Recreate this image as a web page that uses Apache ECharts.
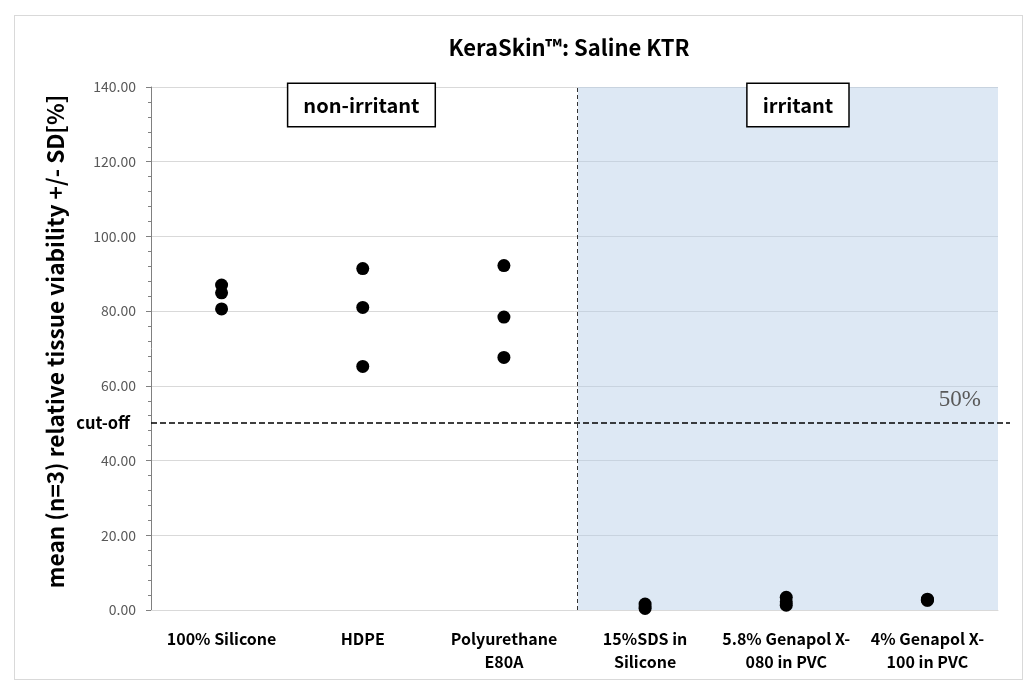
<!DOCTYPE html>
<html>
<head>
<meta charset="utf-8">
<script src="https://cdn.jsdelivr.net/npm/echarts@6/dist/echarts.min.js"></script>
<style>
  html, body { margin: 0; padding: 0; background: #fff; }
  #chart { width: 1036px; height: 689px; position: absolute; left: 0; top: 0; }
  #frame { position: absolute; left: 14px; top: 15px; width: 1007px; height: 663px; border: 1px solid #d9d9d9; pointer-events: none; }
</style>
</head>
<body>
<div id="chart"></div>
<div id="frame"></div>
<script>
const categories = ['100% Silicone', 'HDPE', 'Polyurethane\nE80A', '15%SDS in\nSilicone', '5.8% Genapol X-\n080 in PVC', '4% Genapol X-\n100 in PVC'];
const replicate1 = [87.0, 91.4, 92.2, 1.6, 3.4, 2.9];
const replicate2 = [84.9, 81.0, 78.4, 0.9, 2.2, 2.7];
const replicate3 = [80.6, 65.2, 67.6, 0.4, 1.3, 2.6];
const yMin = 0, yMax = 140, yStep = 20;
const cutoffValue = 50;
const irritantStart = 2.524;   // boundary between groups on the category index scale
const groupLabels = ['non-irritant', 'irritant'];

const points = [];
[replicate1, replicate2, replicate3].forEach(rep => rep.forEach((v, i) => points.push([i, v])));

const FONT = '"Noto Sans CJK KR", "Noto Sans", sans-serif';
const boxLabel = (text, dx) => ({
  show: true, position: 'insideTop', formatter: text, distance: 0, offset: [dx, -3],
  fontFamily: FONT, fontWeight: 'bold', fontSize: 20, color: '#000', backgroundColor: '#fff',
  borderColor: '#000', borderWidth: 1.5, padding: [11, 15, 11, 15]
});

const chart = echarts.init(document.getElementById('chart'), null, { renderer: 'canvas' });
chart.setOption({
  animation: false,
  backgroundColor: '#fff',
  title: {
    text: 'KeraSkin™: Saline KTR',
    left: 564, top: 32, textAlign: 'center',
    textStyle: { fontFamily: FONT, fontWeight: 'bold', fontSize: 22, color: '#000' }
  },
  grid: [
    { left: 151, right: 38, top: 87, bottom: 79 },
    { left: 151, right: 26, top: 87, bottom: 79 }
  ],
  xAxis: [
    {
      type: 'category', gridIndex: 0, data: categories, boundaryGap: true,
      axisLine: { lineStyle: { color: '#d9d9d9', width: 1 } },
      axisTick: { show: false },
      axisLabel: { interval: 0, margin: 17, lineHeight: 23, fontFamily: FONT, fontWeight: 'bold', fontSize: 16, color: '#000' },
      splitLine: { show: false }
    },
    { type: 'value', gridIndex: 0, min: -0.5, max: 5.5, show: false },
    { type: 'value', gridIndex: 1, min: 0, max: 1, show: false }
  ],
  yAxis: [
    {
      type: 'value', gridIndex: 0, min: yMin, max: yMax, interval: yStep,
      name: 'mean (n=3) relative tissue viability +/- SD[%]',
      nameLocation: 'middle', nameGap: 84,
      nameTextStyle: { fontFamily: FONT, fontWeight: 'bold', fontSize: 22.6, color: '#000', padding: [0, 0, 0, 14] },
      axisLine: { show: true, onZero: false, lineStyle: { color: '#808080', width: 1 } },
      axisTick: { show: true, length: 5, lineStyle: { color: '#808080' } },
      minorTick: { show: true, splitNumber: 5, length: 3, lineStyle: { color: '#808080' } },
      splitLine: { lineStyle: { color: '#d9d9d9', width: 1 } },
      axisLabel: { formatter: v => v.toFixed(2), fontFamily: FONT, fontSize: 14, color: '#595959', margin: 15 }
    },
    { type: 'value', gridIndex: 1, min: yMin, max: yMax, show: false }
  ],
  series: [
    {
      type: 'scatter', xAxisIndex: 1, yAxisIndex: 0, data: points,
      symbol: 'circle', symbolSize: 13, itemStyle: { color: '#000', opacity: 1 },
      z: 4,
      markArea: {
        silent: true,
        data: [
          [
            { xAxis: -0.5, itemStyle: { color: 'rgba(255,255,255,0)' }, label: boxLabel(groupLabels[0], -3) },
            { xAxis: irritantStart }
          ],
          [
            { xAxis: irritantStart, itemStyle: { color: 'rgba(180,205,230,0.45)' }, label: boxLabel(groupLabels[1], 10) },
            { xAxis: 5.5 }
          ]
        ]
      },
      markLine: {
        silent: true, symbol: ['none', 'none'],
        label: { show: false },
        lineStyle: { type: [4, 3], color: '#333', width: 1 },
        data: [{ xAxis: irritantStart }]
      }
    },
    {
      type: 'scatter', xAxisIndex: 2, yAxisIndex: 1, data: [], z: 5,
      markLine: {
        silent: true, symbol: ['none', 'none'],
        data: [
          { yAxis: cutoffValue,
            lineStyle: { type: [6, 3], color: '#000', width: 1.5 },
            label: { show: true, position: 'start', formatter: 'cut-off', distance: 21,
              fontFamily: FONT, fontWeight: 'bold', fontSize: 16.5, color: '#000' } },
          { yAxis: cutoffValue,
            lineStyle: { color: 'rgba(0,0,0,0)', width: 1, type: 'solid' },
            label: { show: true, position: 'insideEndTop', formatter: cutoffValue + '%', distance: 0,
              padding: [0, 29, 12, 0],
              fontFamily: '"Liberation Serif", "DejaVu Serif", serif', fontSize: 23, color: '#595959' } }
        ]
      }
    }
  ]
});
</script>
</body>
</html>
